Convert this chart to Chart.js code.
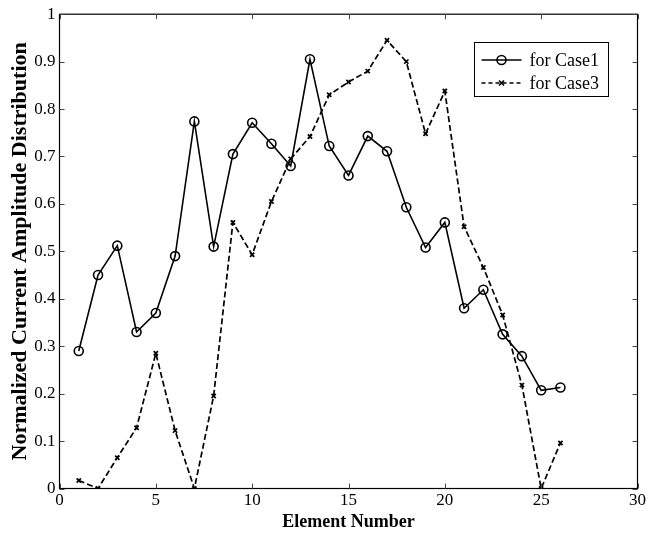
<!DOCTYPE html>
<html>
<head>
<meta charset="utf-8">
<script src="https://cdn.jsdelivr.net/npm/chart.js@4.4.1/dist/chart.umd.min.js"></script>
<style>
  html, body { margin: 0; padding: 0; background: #fff; }
  #wrap { width: 648px; height: 533px; }
</style>
</head>
<body>
<div id="wrap"><canvas id="c" width="648" height="533"></canvas></div>
<script>
// ====================
// data
// ====================
const elements = [1,2,3,4,5,6,7,8,9,10,11,12,13,14,15,16,17,18,19,20,21,22,23,24,25,26];
const case1 = [0.29,0.45,0.512,0.33,0.37,0.49,0.774,0.51,0.705,0.771,0.727,0.68,0.905,0.722,0.66,0.743,0.711,0.593,0.508,0.561,0.38,0.419,0.325,0.279,0.207,0.213];
const case3 = [0.017,0.0,0.065,0.128,0.285,0.122,0.0,0.195,0.561,0.493,0.605,0.695,0.742,0.83,0.857,0.88,0.945,0.9,0.748,0.838,0.552,0.466,0.366,0.218,0.0,0.096];
const seriesNames = ["for Case1", "for Case3"];
const xTicks = [0,5,10,15,20,25,30];
const yTicks = [0,0.1,0.2,0.3,0.4,0.5,0.6,0.7,0.8,0.9,1];

const serif = "'Liberation Serif', 'Times New Roman', serif";

// ====================
// box + inward ticks (matlab style) + legend
// ====================
const boxPlugin = {
    id: "box",
    afterDraw(chart) {
        const { ctx, chartArea: a, scales } = chart;
        ctx.save();
        ctx.strokeStyle = "#000";
        ctx.lineWidth = 1.2;
        ctx.strokeRect(a.left, a.top, a.right - a.left, a.bottom - a.top);
        ctx.lineWidth = 1;
        ctx.strokeStyle = "#444";
        ctx.beginPath();
        xTicks.forEach(v => {
            const x = Math.round(scales.x.getPixelForValue(v)) + 0.5;
            ctx.moveTo(x, a.bottom); ctx.lineTo(x, a.bottom - 5);
            ctx.moveTo(x, a.top); ctx.lineTo(x, a.top + 5);
        });
        yTicks.forEach(v => {
            const y = Math.round(scales.y.getPixelForValue(v)) + 0.5;
            ctx.moveTo(a.left, y); ctx.lineTo(a.left + 5, y);
            ctx.moveTo(a.right, y); ctx.lineTo(a.right - 5, y);
        });
        ctx.stroke();

        // legend
        ctx.strokeStyle = "#000";
        const lx = 474.5, ly = 42.5, lw = 134, lh = 54;
        ctx.fillStyle = "#fff";
        ctx.fillRect(lx, ly, lw, lh);
        ctx.strokeRect(lx, ly, lw, lh);
        ctx.font = "18px " + serif;
        ctx.textBaseline = "middle";
        ctx.fillStyle = "#000";
        const rows = [ly + 17.5, ly + 40.5];
        rows.forEach((ry, i) => {
            ctx.beginPath();
            ctx.setLineDash(i === 0 ? [] : [4, 3]);
            ctx.lineWidth = 1.6;
            ctx.moveTo(lx + 7, ry); ctx.lineTo(lx + 47, ry);
            ctx.stroke();
            ctx.setLineDash([]);
            ctx.beginPath();
            if (i === 0) {
                ctx.arc(lx + 27, ry, 4.5, 0, Math.PI * 2);
            } else {
                ctx.moveTo(lx + 24.5, ry - 2.5); ctx.lineTo(lx + 29.5, ry + 2.5);
                ctx.moveTo(lx + 24.5, ry + 2.5); ctx.lineTo(lx + 29.5, ry - 2.5);
            }
            ctx.stroke();
            ctx.fillText(seriesNames[i], lx + 55, ry + 1);
        });
        ctx.restore();
    }
};

new Chart(document.getElementById("c"), {
    type: "line",
    data: {
        datasets: [{
            label: seriesNames[0],
            data: elements.map((e, i) => ({ x: e, y: case1[i] })),
            borderColor: "#000",
            borderWidth: 1.6,
            pointStyle: "circle",
            pointRadius: 4.5,
            pointBorderWidth: 1.6,
            pointBorderColor: "#000",
            pointBackgroundColor: "rgba(0,0,0,0)",
            fill: false,
            tension: 0
        }, {
            label: seriesNames[1],
            data: elements.map((e, i) => ({ x: e, y: case3[i] })),
            borderColor: "#000",
            borderWidth: 1.7,
            borderDash: [6, 3],
            pointStyle: "crossRot",
            pointRadius: 3,
            pointBorderWidth: 1.7,
            pointBorderColor: "#000",
            fill: false,
            tension: 0
        }]
    },
    options: {
        responsive: false,
        animation: false,
        layout: { padding: { top: 14, right: 9.5, left: 0, bottom: 0 } },
        plugins: { legend: { display: false }, tooltip: { enabled: false } },
        scales: {
            x: {
                type: "linear", min: 0, max: 30,
                afterBuildTicks: s => { s.ticks = xTicks.map(v => ({ value: v })); },
                afterFit: s => { s.height = 44.5; },
                grid: { display: false, drawTicks: false },
                border: { display: false },
                ticks: { color: "#000", padding: 2, font: { family: serif, size: 17 }, maxRotation: 0 },
                title: { display: true, text: "Element Number", color: "#000", padding: 0,
                         font: { family: serif, size: 18, weight: "bold" } }
            },
            y: {
                type: "linear", min: 0, max: 1,
                afterBuildTicks: s => { s.ticks = yTicks.map(v => ({ value: v })); },
                afterFit: s => { s.width = 59.5; },
                grid: { display: false, drawTicks: false },
                border: { display: false },
                ticks: { color: "#000", padding: 4, font: { family: serif, size: 17 },
                         callback: v => String(+v.toFixed(1)) },
                title: { display: true, text: "Normalized Current Amplitude Distribution", color: "#000",
                         padding: { top: 7, bottom: 0 },
                         font: { family: serif, size: 22, weight: "bold" } }
            }
        }
    },
    plugins: [boxPlugin]
});
</script>
</body>
</html>
